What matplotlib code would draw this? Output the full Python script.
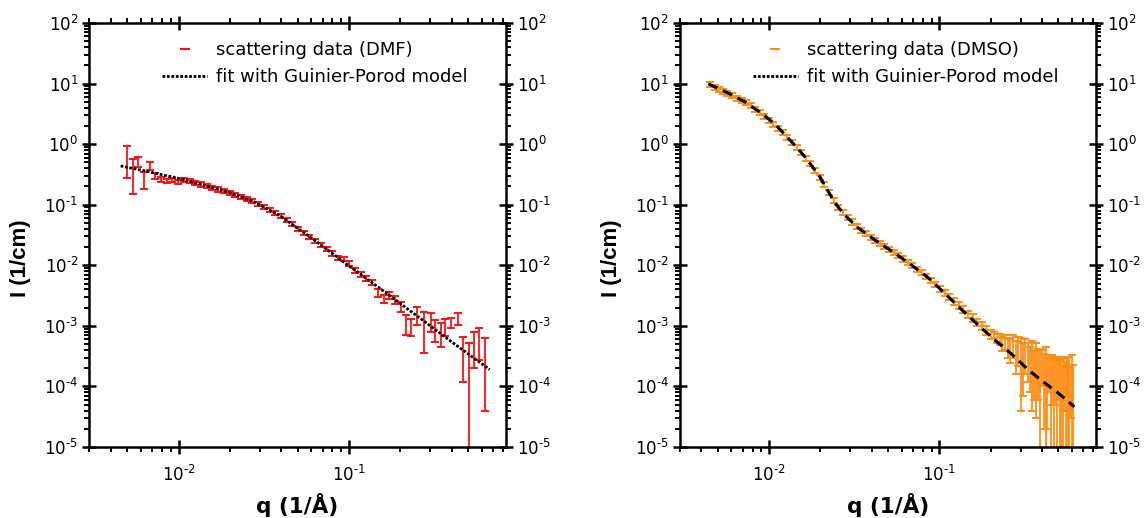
import math
import matplotlib
matplotlib.use("Agg")
import matplotlib.pyplot as plt
from matplotlib.lines import Line2D
from matplotlib.ticker import LogLocator, NullFormatter, FuncFormatter

plt.rcParams['font.family'] = ['DejaVu Sans']
plt.rcParams['mathtext.default'] = 'regular'

# --- DMF: measured intensity with errors ---
q_dmf = [0.00501, 0.0054, 0.0058, 0.00627, 0.0068, 0.00727, 0.00785, 0.00851, 0.00919, 0.0099,
         0.0107, 0.0116, 0.0125, 0.0135, 0.0146, 0.0158, 0.0171, 0.0184, 0.0199, 0.0215,
         0.0232, 0.0251, 0.0271, 0.0293, 0.0316, 0.0342, 0.0369, 0.0398, 0.043, 0.0465,
         0.0502, 0.0542, 0.0586, 0.0633, 0.0683, 0.0738, 0.0797, 0.0861, 0.093, 0.1005,
         0.1085, 0.1172, 0.1266, 0.1367, 0.1477, 0.1595, 0.1723, 0.186, 0.201,
         0.216, 0.232, 0.250, 0.275, 0.303, 0.318, 0.345, 0.367, 0.399, 0.435,
         0.468, 0.503, 0.541, 0.581, 0.631]
i_dmf = [0.60, 0.354, 0.52, 0.265, 0.44, 0.30, 0.265, 0.25, 0.257, 0.237,
         0.259, 0.243, 0.230, 0.216, 0.204, 0.191, 0.179, 0.169, 0.159, 0.1466,
         0.135, 0.124, 0.114, 0.1033, 0.0918, 0.0815, 0.0726, 0.0646, 0.0555, 0.0475,
         0.0405, 0.0348, 0.0298, 0.0256, 0.0218, 0.0185, 0.0158, 0.0134, 0.0128, 0.0108,
         0.00828, 0.00705, 0.00604, 0.00514, 0.00353, 0.00281, 0.00319, 0.00271, 0.00208,
         1.1e-3, 1.0e-3, 1.55e-3, 1.03e-3, 1.2e-3, 9.0e-4, 7.8e-4, 1.0e-3, 1.12e-3, 1.32e-3,
         3.9e-4, 2.6e-4, 5.0e-4, 5.9e-4, 3.3e-4]
err_dmf = [0.32, 0.206, 0.10, 0.085, 0.06, 0.03, 0.025, 0.02, 0.022, 0.015,
           0.020, 0.019, 0.018, 0.017, 0.016, 0.015, 0.014, 0.013, 0.012, 0.011,
           0.010, 0.0095, 0.0088, 0.008, 0.007, 0.0063, 0.0056, 0.005, 0.0043, 0.0037,
           0.0031, 0.0027, 0.0023, 0.002, 0.0017, 0.0015, 0.0013, 0.0011, 0.0011, 0.0009,
           0.0008, 0.0007, 0.0006, 0.0005, 0.0005, 0.0004, 0.0004, 0.0004, 0.0004,
           4.0e-4, 3.2e-4, 5.2e-4, 6.8e-4, 4.0e-4, 3.5e-4, 3.3e-4, 3.2e-4, 2.1e-4, 2.9e-4,
           2.7e-4, 2.7e-4, 3.0e-4, 3.2e-4, 2.9e-4]

# DMF Guinier-Porod fit
q_dmf_fit = [0.00457, 0.00631, 0.0100, 0.01413, 0.01995, 0.02818, 0.03981, 0.0501,
             0.0631, 0.100, 0.1585, 0.2512, 0.398, 0.631, 0.668]
i_dmf_fit = [0.4365, 0.363, 0.272, 0.209, 0.158, 0.1096, 0.0646, 0.0407,
             0.0257, 0.00977, 0.0038, 0.00145, 5.5e-4, 2.14e-4, 1.9e-4]

# --- DMSO: measured intensity with errors ---
q_dmso = [0.0045, 0.0048, 0.0051, 0.0054, 0.0057, 0.0061, 0.0065, 0.0069, 0.0073, 0.0078,
          0.0083, 0.0088, 0.0094, 0.0100, 0.0106, 0.0113, 0.0120, 0.0128, 0.0136, 0.0145,
          0.0154, 0.0164, 0.0175, 0.0186, 0.0198, 0.0211, 0.0225, 0.0239, 0.0255, 0.0271,
          0.0289, 0.0307, 0.0327, 0.0348, 0.0371, 0.0395, 0.0420, 0.0447, 0.0476, 0.0507,
          0.0540, 0.0575, 0.0612, 0.0651, 0.0693, 0.0738, 0.0786, 0.0837, 0.0891, 0.0948,
          0.101, 0.1075, 0.1144, 0.1218, 0.1297, 0.1381, 0.147, 0.1565, 0.1666, 0.1774,
          0.1888, 0.201,
          0.21, 0.218, 0.226, 0.234, 0.243, 0.252, 0.261, 0.27, 0.28, 0.29,
          0.30, 0.31, 0.32, 0.33, 0.34, 0.35, 0.36, 0.37, 0.38, 0.39,
          0.40, 0.41, 0.42, 0.43, 0.44, 0.45, 0.46, 0.47, 0.48, 0.49,
          0.50, 0.51, 0.52, 0.53, 0.54, 0.55, 0.56, 0.57, 0.58, 0.59,
          0.60, 0.61]
i_dmso = [9.6, 8.8, 8.1, 7.5, 7.0, 6.4, 5.8, 5.35, 4.9, 4.3,
          3.8, 3.4, 2.9, 2.45, 2.11, 1.80, 1.55, 1.27, 1.06, 0.89,
          0.72, 0.59, 0.48, 0.37, 0.284, 0.217, 0.159, 0.119, 0.091, 0.075,
          0.062, 0.052, 0.0437, 0.0377, 0.0333, 0.0292, 0.026, 0.0232, 0.0206, 0.0184,
          0.0164, 0.0145, 0.0128, 0.0112, 0.00985, 0.0086, 0.0076, 0.00653, 0.00562, 0.00484,
          0.00412, 0.00351, 0.00299, 0.00254, 0.00217, 0.00185, 0.00158, 0.00135, 0.00115, 0.00100,
          8.5e-4, 7.2e-4,
          7.0e-4, 6.2e-4, 6.0e-4, 5.2e-4, 5.5e-4, 4.6e-4, 4.2e-4, 5.0e-4, 3.6e-4, 4.4e-4,
          3.4e-4, 3.0e-4, 3.8e-4, 3.2e-4, 2.6e-4, 3.0e-4, 2.2e-4, 2.8e-4, 2.4e-4, 2.0e-4,
          2.5e-4, 1.8e-4, 2.2e-4, 1.6e-4, 2.0e-4, 1.4e-4, 1.9e-4, 1.5e-4, 1.7e-4, 1.2e-4,
          1.8e-4, 1.3e-4, 1.6e-4, 1.1e-4, 1.7e-4, 1.2e-4, 1.9e-4, 1.0e-4, 1.5e-4, 1.3e-4,
          1.6e-4, 1.1e-4]
err_dmso = [0.9, 0.85, 0.78, 0.72, 0.67, 0.61, 0.55, 0.5, 0.46, 0.41,
            0.36, 0.32, 0.27, 0.23, 0.2, 0.17, 0.15, 0.12, 0.1, 0.085,
            0.068, 0.056, 0.046, 0.035, 0.027, 0.021, 0.015, 0.011, 0.0087, 0.0072,
            0.006, 0.005, 0.0042, 0.0036, 0.0032, 0.0028, 0.0025, 0.0022, 0.002, 0.0018,
            0.0016, 0.0014, 0.0013, 0.0011, 0.001, 9.0e-4, 8.0e-4, 7.0e-4, 6.0e-4, 5.2e-4,
            4.6e-4, 4.0e-4, 3.5e-4, 3.0e-4, 2.7e-4, 2.4e-4, 2.1e-4, 1.9e-4, 1.7e-4, 1.6e-4,
            1.4e-4, 1.2e-4,
            0.8e-4, 1.0e-4, 1.2e-4, 1.3e-4, 1.5e-4, 1.6e-4, 1.8e-4, 2.0e-4, 2.0e-4, 2.2e-4,
            3.0e-4, 2.3e-4, 2.2e-4, 2.0e-4, 1.8e-4, 2.6e-4, 1.6e-4, 2.5e-4, 1.8e-4, 2.1e-4,
            1.5e-4, 1.6e-4, 2.3e-4, 1.4e-4, 1.2e-4, 1.5e-4, 1.4e-4, 1.6e-4, 1.2e-4, 1.3e-4,
            1.2e-4, 1.4e-4, 1.5e-4, 1.2e-4, 1.3e-4, 1.3e-4, 1.2e-4, 1.1e-4, 1.6e-4, 1.0e-4,
            1.7e-4, 1.2e-4]

# DMSO Guinier-Porod fit
q_dmso_fit = [0.0044, 0.0058, 0.0072, 0.0083, 0.0091, 0.0109, 0.0125, 0.0143, 0.016, 0.0179,
              0.020, 0.0214, 0.0245, 0.028, 0.0335, 0.042, 0.055, 0.0689, 0.0862, 0.108,
              0.135, 0.169, 0.212, 0.266, 0.333, 0.398, 0.50, 0.62]
i_dmso_fit = [9.9, 6.9, 5.0, 3.8, 3.2, 2.1, 1.4, 0.93, 0.65, 0.43,
              0.28, 0.20, 0.105, 0.066, 0.041, 0.026, 0.0157, 0.0100, 0.0062, 0.0034,
              0.00185, 0.00103, 5.8e-4, 3.4e-4, 1.87e-4, 1.25e-4, 7.7e-5, 4.6e-5]

red = '#ff1010'
orange = '#ff8c14'
dot_style = (0, (1.0, 0.6))


def pow10(v, pos):
    # decade labels with a short hyphen in the exponent
    e = int(round(math.log10(v)))
    if e < 0:
        return r'$10^{\text{-}%d}$' % (-e)
    return r'$10^{%d}$' % e


fig = plt.figure(figsize=(11.44, 5.18), dpi=100)
ax1 = fig.add_axes([0.0782, 0.1371, 0.3638, 0.8185])
ax2 = fig.add_axes([0.5944, 0.1371, 0.3636, 0.8185])

ax1.errorbar(q_dmf, i_dmf, yerr=err_dmf, fmt='none', ecolor=red,
             elinewidth=1.3, capsize=3, capthick=1.4, zorder=2)
ax1.plot(q_dmf_fit, i_dmf_fit, color='k', lw=2.0, ls=dot_style, zorder=3)

ax2.errorbar(q_dmso, i_dmso, yerr=err_dmso, fmt='none', ecolor=orange,
             elinewidth=1.3, capsize=3, capthick=1.4, zorder=2)
ax2.plot(q_dmso_fit, i_dmso_fit, color='k', lw=2.2, ls=(0, (3.3, 2.0)), zorder=3)

for ax, color, solvent in [(ax1, red, 'DMF'), (ax2, orange, 'DMSO')]:
    ax.set_xscale('log')
    ax.set_yscale('log')
    ax.set_xlim(0.003, 0.83)
    ax.set_ylim(1e-5, 1e2)
    ax.xaxis.set_major_locator(LogLocator(base=10, numticks=20))
    ax.yaxis.set_major_locator(LogLocator(base=10, numticks=20))
    ax.xaxis.set_minor_locator(LogLocator(base=10, subs=range(2, 10), numticks=100))
    ax.yaxis.set_minor_locator(LogLocator(base=10, subs=range(2, 10), numticks=100))
    ax.xaxis.set_major_formatter(FuncFormatter(pow10))
    ax.yaxis.set_major_formatter(FuncFormatter(pow10))
    ax.xaxis.set_minor_formatter(NullFormatter())
    ax.yaxis.set_minor_formatter(NullFormatter())
    for s in ax.spines.values():
        s.set_linewidth(1.8)
    ax.tick_params(which='major', direction='inout', length=10, width=1.8,
                   top=True, right=True, labelright=True, labelsize=12)
    ax.tick_params(axis='y', which='major', pad=3)
    ax.tick_params(axis='x', which='major', pad=8)
    ax.tick_params(which='minor', direction='out', length=3.5, width=1.4,
                   top=True, right=True)
    ax.set_xlabel('q (1/Å)', fontsize=15.5, fontweight='bold')
    ax.set_ylabel('I (1/cm)', fontsize=16, fontweight='bold', family='Liberation Sans')
    ax.xaxis.set_label_coords(0.5, -0.108)
    ax.yaxis.set_label_coords(-0.14, 0.446)

    handles = [Line2D([], [], color=color, marker='_', ls='none', ms=7, mew=1.5),
               Line2D([], [], color='k', lw=2.0, ls=dot_style)]
    labels = ['scattering data (%s)' % solvent, 'fit with Guinier-Porod model']
    ax.legend(handles, labels, loc='upper left', bbox_to_anchor=(0.136, 0.995),
              frameon=False, fontsize=13, handlelength=2.5, handletextpad=0.5)

fig.savefig('out.png', dpi=100)
